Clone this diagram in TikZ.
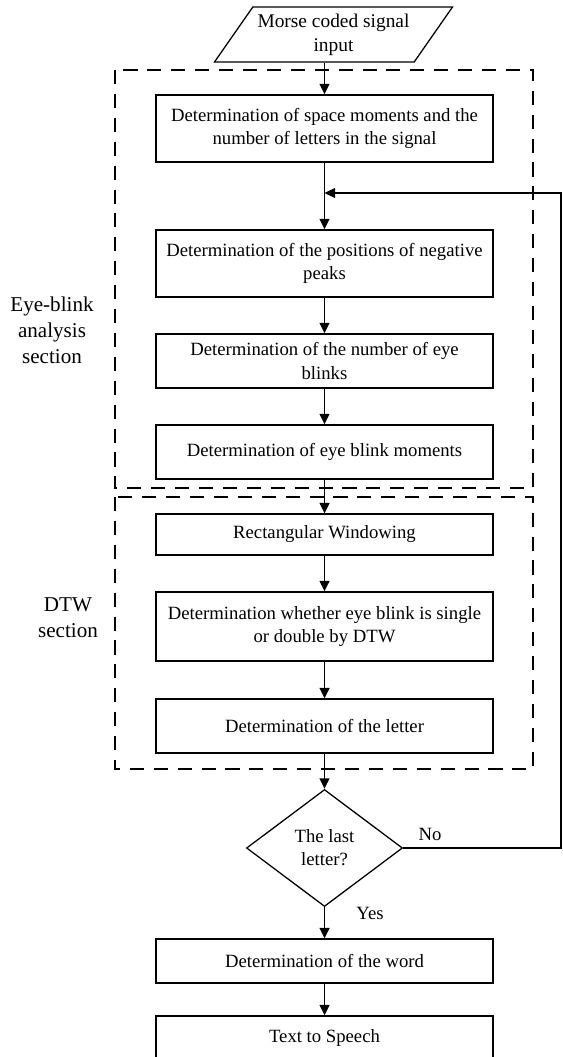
\documentclass[tikz,border=0pt]{standalone}
\usepackage{fontspec}
\setmainfont{Liberation Serif}
\usetikzlibrary{arrows.meta,positioning,shapes.geometric,calc}
\tikzset{
  % 流程框
  procbox/.style={
    draw,
    line width=0.9pt,
    minimum width=8.425cm,
    align=center,
    font=\fontsize{13.3}{16.5}\selectfont
  },
  % 输入框
  inbox/.style={
    draw,
    line width=0.9pt,
    trapezium,
    trapezium left angle=53,
    trapezium right angle=127,
    trapezium stretches body,
    minimum width=5.325cm,
    minimum height=1.375cm,
    align=center,
    font=\fontsize{13.8}{17}\selectfont
  },
  % 判断框
  decide/.style={
    draw,
    diamond,
    line width=0.9pt,
    inner sep=0pt,
    minimum width=3.9cm,
    minimum height=2.925cm,
    align=center,
    font=\fontsize{13.3}{16.5}\selectfont
  },
  % 虚线分区
  zone/.style={draw, line width=0.85pt, dash pattern=on 10pt off 7pt},
  zonelab/.style={align=center, font=\fontsize{15}{18.5}\selectfont},
  yesno/.style={font=\fontsize{13.3}{16}\selectfont},
}

\begin{document}
\begin{tikzpicture}[
        x=0.025cm, y=-0.025cm,
        arrow/.style={-{Triangle[length=7.5pt, width=7pt]}, line width=1.4pt},
        back/.style={-{Triangle[length=7.5pt, width=7pt]}, line width=0.8pt}
    ]
        \useasboundingbox (0,0) rectangle (563,1057);

        % 分区
        \draw[zone] (115,70) rectangle (533,488);
        \draw[zone] (115,497) rectangle (533,769);
        \node[zonelab] (eyelab) at (52,330) {Eye-blink\\analysis\\section};
        \node[zonelab] (dtwlab) at (68,618) {DTW\\section};

        % 流程
        \node[inbox] (input) at (333.5,34.5) {Morse coded signal\\input};
        \node[procbox, minimum height=1.675cm] (space) at (324.5,128.5) {Determination of space moments and the\\number of letters in the signal};
        \node[procbox, minimum height=1.675cm] (peaks) at (324.5,263.5) {Determination of the positions of negative\\peaks};
        \node[procbox, minimum height=1.35cm] (count) at (324.5,361) {Determination of the number of eye\\blinks};
        \node[procbox, minimum height=1.35cm] (moments) at (324.5,452) {Determination of eye blink moments};
        \node[procbox, minimum height=1.025cm] (window) at (324.5,534.5) {Rectangular Windowing};
        \node[procbox, minimum height=1.725cm] (dtw) at (324.5,626.5) {Determination whether eye blink is single\\or double by DTW};
        \node[procbox, minimum height=1.35cm] (letter) at (324.5,726) {Determination of the letter};
        \node[decide] (last) at (324.5,848) {The last\\letter?};
        \node[procbox, minimum height=1.1cm] (word) at (324.5,961) {Determination of the word};
        \node[procbox, minimum height=1.1cm] (tts) at (324.5,1038) {Text to Speech};

        \coordinate (join) at (324.5,193);
        \coordinate (rt) at (561,193);

        \draw[arrow] (input.south -| space.north) -- (space);
        \draw[arrow] (space) -- (peaks);
        \draw[arrow] (peaks) -- (count);
        \draw[arrow] (count) -- (moments);
        \draw[arrow] (moments) -- (window);
        \draw[arrow] (window) -- (dtw);
        \draw[arrow] (dtw) -- (letter);
        \draw[arrow] (letter) -- (last);
        \draw[arrow] (last) -- (word);
        \draw[arrow] (word) -- (tts);
        \draw[back] (last.east) -| (rt) -- (join);

        \node[yesno] (no) at (430,834) {No};
        \node[yesno] (yes) at (370,913) {Yes};
    \end{tikzpicture}
\end{document}
